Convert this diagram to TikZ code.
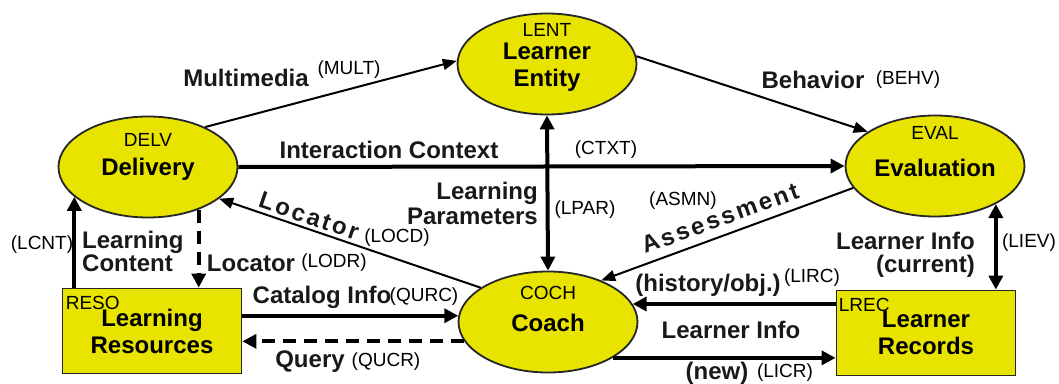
\documentclass[tikz,border=0pt]{standalone}
\usepackage{fontspec}
\setmainfont{Liberation Sans}
\usetikzlibrary{arrows.meta,calc,positioning,shapes.geometric}
\definecolor{UnitYellow}{RGB}{232,228,0}

\begin{document}
\begin{tikzpicture}[x=1pt, y=-1pt,
  unit/.style={ellipse, draw=black!85, line width=1.8pt, fill=UnitYellow,
    minimum width=179pt, minimum height=101pt, inner sep=0pt},
  store/.style={rectangle, draw=black!85, line width=1.8pt, fill=UnitYellow,
    minimum width=179pt, minimum height=85pt, inner sep=0pt, align=center,
    font=\fontsize{24}{27}\selectfont\bfseries},
  unitname/.style={font=\fontsize{24}{27}\selectfont\bfseries, align=center, inner sep=0pt},
  code/.style={font=\fontsize{19}{21}\selectfont, inner sep=0pt},
  flow/.style={font=\fontsize{24}{23}\selectfont\bfseries, inner sep=0pt, text=black!90},
  slanted/.style={flow, font=\fontsize{24}{23}\selectfont\bfseries\addfontfeature{LetterSpace=11}},
  thinflow/.style={line width=2pt, -{Triangle[length=14pt,width=11pt]}},
  thickflow/.style={line width=4pt, -{Triangle[length=14pt,width=14pt]}},
  dashflow/.style={thickflow, dash pattern=on 13pt off 8pt},
  bothflow/.style={line width=4pt, {Triangle[length=14pt,width=14pt]}-{Triangle[length=14pt,width=14pt]}},
]
  \useasboundingbox (0,0) rectangle (1059,383);

  % Functional units (ellipses)
  \node[unit] (delv) at (148,167) {};
  \node[unit] (lent) at (547,64) {};
  \node[unit] (eval) at (935,166) {};
  \node[unit] (coch) at (548,322) {};

  % Data stores (boxes)
  \node[store] (reso) at (152,331) {Learning\\Resources};
  \node[store] (lrec) at (926,333) {Learner\\Records};

  % Unit codes and names
  \node[code] (delv-id) at ([yshift=27pt]delv.center) {DELV};
  \node[unitname] (delv-name) at ([yshift=-2pt]delv.center) {Delivery};
  \node[code] (lent-id) at ([yshift=34pt]lent.center) {LENT};
  \node[unitname] (lent-name) at ([yshift=-3pt]lent.center) {Learner\\Entity};
  \node[code] (eval-id) at ([yshift=33pt]eval.center) {EVAL};
  \node[unitname] (eval-name) at ([yshift=-2pt]eval.center) {Evaluation};
  \node[code] (coch-id) at ([yshift=29pt]coch.center) {COCH};
  \node[unitname] (coch-name) at ([yshift=-1pt]coch.center) {Coach};
  \node[code, anchor=north west] (reso-id) at ([xshift=4pt,yshift=-8pt]reso.north west) {RESO};
  \node[code, anchor=north west] (lrec-id) at ([xshift=3pt,yshift=-8pt]lrec.north west) {LREC};

  % Flows between the units
  \draw[thinflow] (delv.35) -- (lent.178);
  \draw[thinflow] (lent.5) -- (eval.153);
  \draw[thickflow] (delv.east) -- (eval.west);
  \draw[bothflow] (lent.south) -- (coch.north);
  \draw[thinflow] (eval.195) -- (coch.38);
  \draw[thinflow] (coch.153) -- (delv.-24);

  % Flows to and from the stores
  \draw[dashflow] (delv.-40) -- (delv.-40 |- reso.north);
  \draw[thickflow] (delv.202 |- reso.north) -- (delv.202);
  \draw[thickflow] (coch.176 -| reso.east) -- (coch.176);
  \draw[dashflow] (coch.193) -- (coch.193 -| reso.east);
  \draw[thickflow] (coch.12 -| lrec.west) -- (coch.12);
  \draw[thickflow] (coch.-29) -- (coch.-29 -| lrec.west);
  \draw[bothflow] (eval.-32) -- (eval.-32 |- lrec.north);

  % Flow labels
  \node[flow] (mult-name) at (246,78) {Multimedia};
  \node[code] (mult-id) at (349,70) {(MULT)};
  \node[flow] (behv-name) at (813,80) {Behavior};
  \node[code] (behv-id) at (908,80) {(BEHV)};
  \node[flow] (ctxt-name) at (389,150) {Interaction Context};
  \node[code] (ctxt-id) at (606,150) {(CTXT)};
  \node[flow, align=right, anchor=east, font=\fontsize{24}{25}\selectfont\bfseries] (lpar-name) at (538,203) {Learning\\Parameters};
  \node[code] (lpar-id) at (585,210) {(LPAR)};
  \node[code] (asmn-id) at (683,201) {(ASMN)};
  \node[slanted, rotate=20] (asmn-name) at (720,218) {Assessment};
  \node[slanted, rotate=-19] (locd-name) at (309,216) {Locator};
  \node[code] (locd-id) at (397,238) {(LOCD)};
  \node[flow] (lodr-name) at (251,263) {Locator};
  \node[code] (lodr-id) at (334,263) {(LODR)};
  \node[flow, align=left, anchor=west] (lcnt-name) at (82,251) {Learning\\Content};
  \node[code] (lcnt-id) at (42,245) {(LCNT)};
  \node[flow] (qurc-name) at (322,297) {Catalog Info};
  \node[code] (qurc-id) at (424,297) {(QURC)};
  \node[flow] (qucr-name) at (310,362) {Query};
  \node[code] (qucr-id) at (386,362) {(QUCR)};
  \node[flow] (lirc-name) at (708,285) {(history/obj.)};
  \node[code] (lirc-id) at (812,278) {(LIRC)};
  \node[flow] (licr-name) at (731,330) {Learner Info};
  \node[flow] (licr-new) at (717,373) {(new)};
  \node[code] (licr-id) at (785,373) {(LICR)};
  \node[flow, align=right, anchor=east] (liev-name) at (975,255) {Learner Info\\(current)};
  \node[code] (liev-id) at (1029,243) {(LIEV)};
\end{tikzpicture}
\end{document}
